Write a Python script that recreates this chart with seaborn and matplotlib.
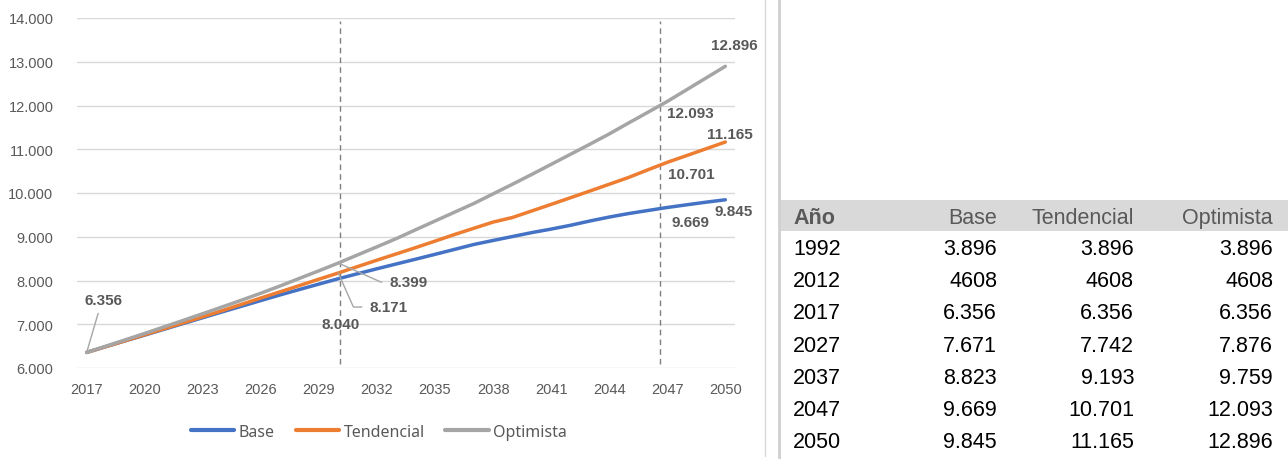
import numpy as np
import pandas as pd
import matplotlib
matplotlib.use("Agg")
import matplotlib.pyplot as plt
from matplotlib import font_manager
from matplotlib.lines import Line2D
from matplotlib.patches import Rectangle
import seaborn as sns

# ---------------- data ----------------
years = list(range(2017, 2051))
base = [6356, 6490, 6622, 6752, 6885, 7018, 7150, 7282, 7412, 7542,
        7671, 7795, 7918, 8040, 8155, 8268, 8378, 8487, 8598, 8710,
        8823, 8915, 9005, 9095, 9175, 9262, 9360, 9450, 9530, 9600,
        9669, 9730, 9790, 9845]
tendencial = [6356, 6490, 6625, 6760, 6897, 7035, 7172, 7310, 7455, 7600,
              7742, 7885, 8030, 8171, 8318, 8465, 8608, 8752, 8900, 9050,
              9193, 9335, 9440, 9590, 9740, 9892, 10045, 10200, 10355, 10530,
              10701, 10855, 11010, 11165]
optimista = [6356, 6500, 6645, 6790, 6940, 7090, 7242, 7395, 7550, 7710,
             7876, 8050, 8222, 8399, 8585, 8770, 8958, 9160, 9360, 9560,
             9759, 9980, 10200, 10425, 10655, 10885, 11115, 11350, 11600, 11845,
             12093, 12360, 12628, 12896]
series_names = ["Base", "Tendencial", "Optimista"]
series_colors = ["#4472C4", "#ED7D31", "#A5A5A5"]
ref_years = [2030.1, 2046.6]
xtick_years = list(range(2017, 2051, 3))
ytick_values = list(range(6000, 14001, 1000))

table_header = ["Año", "Base", "Tendencial", "Optimista"]
table_years = ["1992", "2012", "2017", "2027", "2037", "2047", "2050"]
table_base = ["3.896", "4608", "6.356", "7.671", "8.823", "9.669", "9.845"]
table_tend = ["3.896", "4608", "6.356", "7.742", "9.193", "10.701", "11.165"]
table_opt = ["3.896", "4608", "6.356", "7.876", "9.759", "12.093", "12.896"]


def fmt(v):
    return f"{v:,.0f}".replace(",", ".")


def pick_font(cands):
    for c in cands:
        try:
            font_manager.findfont(font_manager.FontProperties(family=c), fallback_to_default=False)
            return c
        except Exception:
            continue
    return "DejaVu Sans"


# ---------------- style ----------------
sns.set_theme(style="white")
plt.rcParams['font.family'] = ['Liberation Sans', 'DejaVu Sans']
narrow = pick_font(["Liberation Sans Narrow", "Liberation Sans"])
legend_font = pick_font(["Noto Sans", "Open Sans", "DejaVu Sans"])

W, H = 1288, 460
fig = plt.figure(figsize=(W / 100, H / 100), dpi=100)
fig.patch.set_facecolor("white")

ax = fig.add_axes([77 / W, 91 / H, 658 / W, 350 / H])

df = pd.DataFrame({
    "Año": years * 3,
    "Valor": base + tendencial + optimista,
    "Escenario": [n for n in series_names for _ in years],
})
sns.lineplot(data=df, x="Año", y="Valor", hue="Escenario",
             palette=dict(zip(series_names, series_colors)),
             hue_order=series_names, linewidth=2.5, ax=ax, legend=True)

ax.set_xlim(2016.5, 2050.5)
ax.set_ylim(6000, 14000)
ax.set_xticks(xtick_years)
ax.set_xticklabels([str(y) for y in xtick_years])
ax.set_yticks(ytick_values)
ax.set_yticklabels([fmt(v) for v in ytick_values])
ax.set_xlabel("")
ax.set_ylabel("")
for s in ax.spines.values():
    s.set_visible(False)
ax.yaxis.grid(True, color="#d9d9d9", linewidth=1.0)
ax.xaxis.grid(False)
ax.set_axisbelow(True)
ax.tick_params(axis="both", length=0, labelsize=10.5, labelcolor="#595959")
ax.tick_params(axis="x", pad=10)
ax.tick_params(axis="y", pad=17)

for yr in ref_years:
    ax.axvline(yr, ymin=4 / 350, ymax=347 / 350, color="#7f7f7f",
               linestyle=(0, (4, 3)), linewidth=1.0, zorder=1)

# legend
handles, labels = ax.get_legend_handles_labels()
ax.get_legend().remove()
leg = fig.legend(handles, labels, loc="center", bbox_to_anchor=(379 / W, 1 - 433 / H),
                 ncol=3, frameon=False, handlelength=2.7, handletextpad=0.3,
                 columnspacing=1.3, prop={"family": legend_font, "size": 11.5})
for t in leg.get_texts():
    t.set_color("#595959")
for l in leg.get_lines():
    l.set_linewidth(3.0)

# data labels
lab = dict(fontsize=11, fontweight="bold", color="#595959", textcoords="offset pixels",
           annotation_clip=False)
i2017 = years.index(2017)
i2030 = years.index(2030)
i2047 = years.index(2047)
i2050 = years.index(2050)

ax.annotate(fmt(optimista[i2017]), xy=(2017, optimista[i2017]), xytext=(17, 52),
            ha="center", va="center",
            arrowprops=dict(arrowstyle="-", color="#a6a6a6", lw=1, shrinkA=2, shrinkB=2,
                            relpos=(0.4, 0)), **lab)
ax.annotate(fmt(base[i2030]), xy=(2030, base[i2030]), xytext=(2, -45),
            ha="center", va="center", **lab)
ax.annotate(fmt(tendencial[i2030]), xy=(2030, tendencial[i2030]), xytext=(31, -34),
            ha="left", va="center",
            arrowprops=dict(arrowstyle="-", color="#a6a6a6", lw=1, shrinkA=3, shrinkB=0,
                            relpos=(0, 0.5),
                            connectionstyle="angle,angleA=180,angleB=114,rad=0"), **lab)
ax.annotate(fmt(optimista[i2030]), xy=(2030, optimista[i2030]), xytext=(51, -19),
            ha="left", va="center",
            arrowprops=dict(arrowstyle="-", color="#a6a6a6", lw=1, shrinkA=3, shrinkB=0,
                            relpos=(0, 0.5),
                            connectionstyle="angle,angleA=180,angleB=156,rad=0"), **lab)

ax.annotate(fmt(optimista[i2047]), xy=(2047, optimista[i2047]), xytext=(0, -12),
            ha="left", va="center", **lab)
ax.annotate(fmt(tendencial[i2047]), xy=(2047, tendencial[i2047]), xytext=(1, -12),
            ha="left", va="center", **lab)
ax.annotate(fmt(base[i2047]), xy=(2047, base[i2047]), xytext=(4, -15),
            ha="left", va="center", **lab)

ax.annotate(fmt(optimista[i2050]), xy=(2050, optimista[i2050]), xytext=(9, 21),
            ha="center", va="center", **lab)
ax.annotate(fmt(tendencial[i2050]), xy=(2050, tendencial[i2050]), xytext=(5, 8),
            ha="center", va="center", **lab)
ax.annotate(fmt(base[i2050]), xy=(2050, base[i2050]), xytext=(8, -11),
            ha="center", va="center", **lab)

# separators
fig.add_artist(Line2D([765 / W, 765 / W], [1 - 457 / H, 1], color="#d9d9d9", lw=1.0))
fig.add_artist(Line2D([779 / W, 779 / W], [0, 1], color="#d0d0d0", lw=2.0))

# ---------------- table ----------------
ax2 = fig.add_axes([780 / W, 0, (W - 780) / W, 1])
ax2.set_xlim(780, W)
ax2.set_ylim(H, 0)
ax2.axis("off")
ax2.add_patch(Rectangle((780, 201), W - 780, 31, facecolor="#d9d9d9", edgecolor="none"))

col_x = [793, 997, 1134, 1273]
col_ha = ["left", "right", "right", "right"]
hdr_y = 216
tfs = 15.5
for j, h in enumerate(table_header):
    ax2.text(col_x[j], hdr_y, h, ha=col_ha[j], va="center_baseline", fontsize=tfs,
             family=narrow, color="#595959",
             fontweight="bold" if j == 0 else "normal")
row_y0, row_dy = 247, 32.2
cols = [table_years, table_base, table_tend, table_opt]
for i in range(len(table_years)):
    for j, col in enumerate(cols):
        ax2.text(col_x[j], row_y0 + i * row_dy, col[i], ha=col_ha[j], va="center_baseline",
                 fontsize=tfs, family=narrow, color="#000000")

fig.savefig("out.png", dpi=100, facecolor="white")
